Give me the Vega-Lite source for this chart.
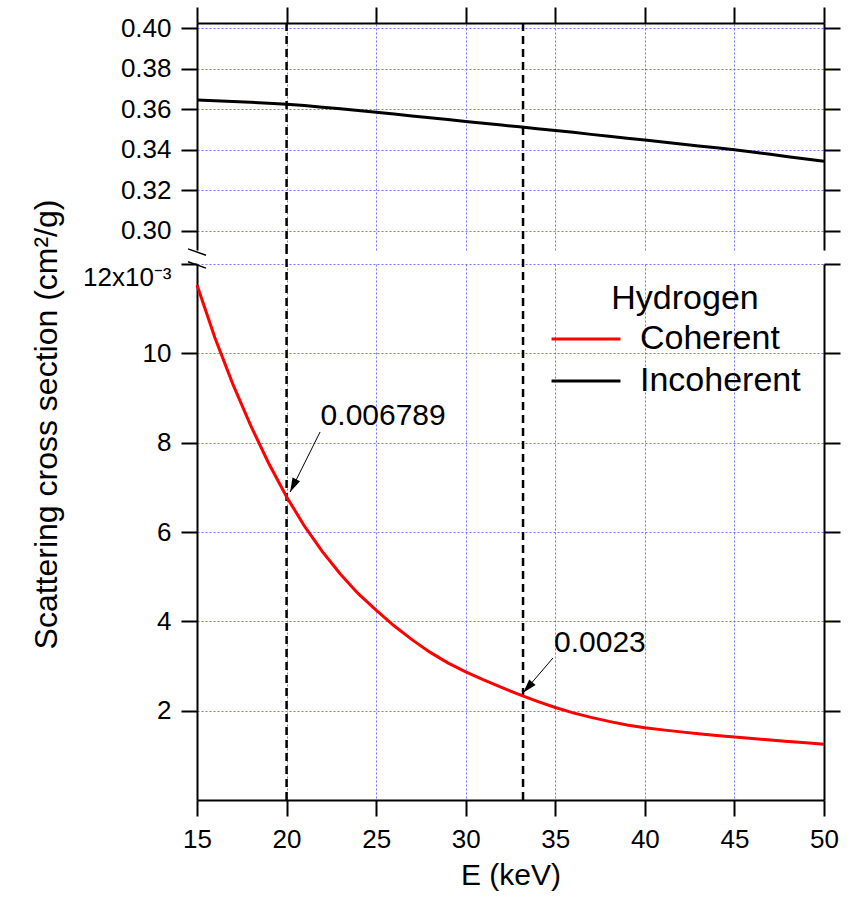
{
  "$schema": "https://vega.github.io/schema/vega-lite/v6.json",
  "background": "white",
  "padding": {"left": 29, "top": 6, "right": 5, "bottom": 5},
  "bounds": "flush",
  "spacing": 14,
  "config": {
    "view": {"stroke": null},
    "axis": {
      "domainColor": "black", "domainWidth": 2,
      "tickColor": "black", "tickWidth": 2, "tickSize": 16,
      "labelFont": "Liberation Sans", "labelFontSize": 26, "labelColor": "black",
      "titleFont": "Liberation Sans", "titleFontSize": 30, "titleFontWeight": "normal", "titleColor": "black",
      "gridColor": "#7373ff", "gridDash": [2, 2], "gridWidth": 1,
      "labelPadding": 10, "labelFlush": false, "labelOverlap": false
    },
    "legend": {
      "orient": "none", "legendX": 372, "legendY": 259,
      "titleFont": "Liberation Sans", "titleFontSize": 34, "titleFontWeight": "normal", "titleColor": "black", "titleAnchor": "middle", "titlePadding": 6, "titleLimit": 0,
      "labelFont": "Liberation Sans", "labelFontSize": 34, "labelColor": "black", "labelOffset": 37, "labelLimit": 0,
      "symbolType": "M-5,0H5", "symbolSize": 190, "symbolStrokeWidth": 3, "rowPadding": 8
    }
  },
  "datasets": {
    "curves": [
      {"E": 15, "value": 0.3645, "series": "Incoherent"},
      {"E": 16, "value": 0.3642, "series": "Incoherent"},
      {"E": 17, "value": 0.3638, "series": "Incoherent"},
      {"E": 18, "value": 0.3634, "series": "Incoherent"},
      {"E": 19, "value": 0.3630, "series": "Incoherent"},
      {"E": 20, "value": 0.3625, "series": "Incoherent"},
      {"E": 21, "value": 0.3618, "series": "Incoherent"},
      {"E": 22, "value": 0.3610, "series": "Incoherent"},
      {"E": 23, "value": 0.3602, "series": "Incoherent"},
      {"E": 24, "value": 0.3594, "series": "Incoherent"},
      {"E": 25, "value": 0.3585, "series": "Incoherent"},
      {"E": 26, "value": 0.3576, "series": "Incoherent"},
      {"E": 27, "value": 0.3567, "series": "Incoherent"},
      {"E": 28, "value": 0.3558, "series": "Incoherent"},
      {"E": 29, "value": 0.3549, "series": "Incoherent"},
      {"E": 30, "value": 0.3540, "series": "Incoherent"},
      {"E": 31, "value": 0.3531, "series": "Incoherent"},
      {"E": 32, "value": 0.3522, "series": "Incoherent"},
      {"E": 33, "value": 0.3513, "series": "Incoherent"},
      {"E": 34, "value": 0.3504, "series": "Incoherent"},
      {"E": 35, "value": 0.3495, "series": "Incoherent"},
      {"E": 36, "value": 0.3486, "series": "Incoherent"},
      {"E": 37, "value": 0.3476, "series": "Incoherent"},
      {"E": 38, "value": 0.3467, "series": "Incoherent"},
      {"E": 39, "value": 0.3457, "series": "Incoherent"},
      {"E": 40, "value": 0.3448, "series": "Incoherent"},
      {"E": 41, "value": 0.3438, "series": "Incoherent"},
      {"E": 42, "value": 0.3429, "series": "Incoherent"},
      {"E": 43, "value": 0.3419, "series": "Incoherent"},
      {"E": 44, "value": 0.3410, "series": "Incoherent"},
      {"E": 45, "value": 0.3400, "series": "Incoherent"},
      {"E": 46, "value": 0.3389, "series": "Incoherent"},
      {"E": 47, "value": 0.3378, "series": "Incoherent"},
      {"E": 48, "value": 0.3366, "series": "Incoherent"},
      {"E": 49, "value": 0.3355, "series": "Incoherent"},
      {"E": 50, "value": 0.3343, "series": "Incoherent"},
      {"E": 15, "value": 0.01153, "series": "Coherent"},
      {"E": 16, "value": 0.01035, "series": "Coherent"},
      {"E": 17, "value": 0.00931, "series": "Coherent"},
      {"E": 18, "value": 0.00838, "series": "Coherent"},
      {"E": 19, "value": 0.00754, "series": "Coherent"},
      {"E": 20, "value": 0.00679, "series": "Coherent"},
      {"E": 21, "value": 0.00613, "series": "Coherent"},
      {"E": 22, "value": 0.00556, "series": "Coherent"},
      {"E": 23, "value": 0.00506, "series": "Coherent"},
      {"E": 24, "value": 0.00462, "series": "Coherent"},
      {"E": 25, "value": 0.00425, "series": "Coherent"},
      {"E": 26, "value": 0.00390, "series": "Coherent"},
      {"E": 27, "value": 0.00359, "series": "Coherent"},
      {"E": 28, "value": 0.00331, "series": "Coherent"},
      {"E": 29, "value": 0.00307, "series": "Coherent"},
      {"E": 30, "value": 0.00287, "series": "Coherent"},
      {"E": 31, "value": 0.00269, "series": "Coherent"},
      {"E": 32, "value": 0.00252, "series": "Coherent"},
      {"E": 33, "value": 0.00236, "series": "Coherent"},
      {"E": 34, "value": 0.00221, "series": "Coherent"},
      {"E": 35, "value": 0.00207, "series": "Coherent"},
      {"E": 36, "value": 0.00195, "series": "Coherent"},
      {"E": 37, "value": 0.00185, "series": "Coherent"},
      {"E": 38, "value": 0.00176, "series": "Coherent"},
      {"E": 39, "value": 0.00168, "series": "Coherent"},
      {"E": 40, "value": 0.00162, "series": "Coherent"},
      {"E": 41, "value": 0.00157, "series": "Coherent"},
      {"E": 42, "value": 0.001525, "series": "Coherent"},
      {"E": 43, "value": 0.001485, "series": "Coherent"},
      {"E": 44, "value": 0.001445, "series": "Coherent"},
      {"E": 45, "value": 0.00141, "series": "Coherent"},
      {"E": 46, "value": 0.001376, "series": "Coherent"},
      {"E": 47, "value": 0.001344, "series": "Coherent"},
      {"E": 48, "value": 0.001312, "series": "Coherent"},
      {"E": 49, "value": 0.001281, "series": "Coherent"},
      {"E": 50, "value": 0.00125, "series": "Coherent"}
    ],
    "vlines": [{"E": 20}, {"E": 33.2}],
    "labels": [
      {"E": 21.9, "v": 0.008395, "text": "0.006789"},
      {"E": 34.93, "v": 0.00332, "text": "0.0023"}
    ],
    "arrows": [
      {"id": "a", "E": 21.87, "v": 0.008239, "E2": 20.2, "v2": 0.006895},
      {"id": "b", "E": 34.87, "v": 0.003179, "E2": 33.21, "v2": 0.002402}
    ]
  },
  "vconcat": [
    {
      "width": 627,
      "height": 227,
      "layer": [
        {
          "data": {"name": "vlines"},
          "mark": {"type": "rule", "color": "black", "strokeWidth": 2.5, "strokeDash": [8, 5]},
          "encoding": {
            "x": {
              "field": "E", "type": "quantitative",
              "scale": {"domain": [15, 50], "nice": false, "zero": false},
              "axis": {"orient": "top", "labels": false, "title": null, "values": [15, 20, 25, 30, 35, 40, 45, 50], "grid": true}
            }
          }
        },
        {
          "data": {"name": "curves"},
          "transform": [{"filter": "datum.series === 'Incoherent'"}],
          "mark": {"type": "line", "strokeWidth": 3},
          "encoding": {
            "x": {"field": "E", "type": "quantitative"},
            "y": {
              "field": "value", "type": "quantitative",
              "scale": {"domain": [0.2906, 0.4025], "nice": false, "zero": false},
              "axis": {"orient": "left", "values": [0.30, 0.32, 0.34, 0.36, 0.38, 0.40], "format": ".2f", "title": null, "grid": true}
            },
            "color": {
              "field": "series", "type": "nominal",
              "scale": {"domain": ["Coherent", "Incoherent"], "range": ["#ff0000", "#000000"]},
              "legend": {"title": "Hydrogen"}
            }
          }
        },
        {
          "data": {"values": [{"E": 15}]},
          "mark": {"type": "point", "shape": "M-1,-0.35L1,0.35", "size": 324, "filled": false, "stroke": "black", "strokeWidth": 1.5, "opacity": 1},
          "encoding": {
            "x": {"field": "E", "type": "quantitative"},
            "y": {
              "datum": 0.2896, "type": "quantitative",
              "axis": {"orient": "right", "labels": false, "title": null, "values": [0.30, 0.32, 0.34, 0.36, 0.38, 0.40], "grid": false}
            }
          }
        }
      ],
      "resolve": {"axis": {"y": "independent"}}
    },
    {
      "width": 627,
      "height": 536,
      "layer": [
        {
          "data": {"name": "vlines"},
          "mark": {"type": "rule", "color": "black", "strokeWidth": 2.5, "strokeDash": [8, 5]},
          "encoding": {
            "x": {
              "field": "E", "type": "quantitative",
              "scale": {"domain": [15, 50], "nice": false, "zero": false},
              "axis": {"orient": "bottom", "title": "E (keV)", "values": [15, 20, 25, 30, 35, 40, 45, 50], "grid": true, "titlePadding": 8}
            },
            "y": {"datum": 0, "type": "quantitative", "axis": null},
            "y2": {"datum": 0.012313}
          }
        },
        {
          "data": {"name": "curves"},
          "transform": [{"filter": "datum.series === 'Coherent'"}],
          "mark": {"type": "line", "strokeWidth": 3},
          "encoding": {
            "x": {"field": "E", "type": "quantitative"},
            "y": {
              "field": "value", "type": "quantitative",
              "scale": {"domain": [0, 0.012], "nice": false, "zero": false},
              "axis": {
                "orient": "left",
                "values": [0.002, 0.004, 0.006, 0.008, 0.010, 0.012],
                "labelExpr": "datum.value > 0.0119 ? '12x10⁻³' : format(datum.value * 1000, 'd')",
                "labelBaseline": {"condition": {"test": "datum.value > 0.0119", "value": "top"}, "value": "middle"},
                "title": "Scattering cross section (cm²/g)",
                "titleFontSize": 32,
                "titleX": -134,
                "titleY": 160,
                "grid": true
              }
            },
            "color": {
              "field": "series", "type": "nominal",
              "scale": {"domain": ["Coherent", "Incoherent"], "range": ["#ff0000", "#000000"]},
              "legend": {"title": "Hydrogen"}
            }
          }
        },
        {
          "data": {"values": [{"E": 15}]},
          "mark": {"type": "point", "shape": "M-1,-0.35L1,0.35", "size": 324, "filled": false, "stroke": "black", "strokeWidth": 1.5, "opacity": 1},
          "encoding": {
            "x": {"field": "E", "type": "quantitative"},
            "y": {
              "datum": 0.011978, "type": "quantitative",
              "axis": {"orient": "right", "labels": false, "title": null, "values": [0.002, 0.004, 0.006, 0.008, 0.010, 0.012], "grid": false}
            }
          }
        },
        {
          "data": {"name": "arrows"},
          "mark": {"type": "rule", "color": "black", "strokeWidth": 1},
          "encoding": {
            "x": {"field": "E", "type": "quantitative"},
            "y": {"field": "v", "type": "quantitative", "axis": null},
            "x2": {"field": "E2"},
            "y2": {"field": "v2"}
          }
        },
        {
          "data": {"name": "arrows"},
          "transform": [{"filter": "datum.id === 'a'"}],
          "mark": {"type": "point", "shape": "M0,0L-0.3,-1L0.3,-1Z", "size": 784, "filled": true, "color": "black", "opacity": 1, "angle": 26},
          "encoding": {
            "x": {"field": "E2", "type": "quantitative"},
            "y": {"field": "v2", "type": "quantitative", "axis": null}
          }
        },
        {
          "data": {"name": "arrows"},
          "transform": [{"filter": "datum.id === 'b'"}],
          "mark": {"type": "point", "shape": "M0,0L-0.3,-1L0.3,-1Z", "size": 784, "filled": true, "color": "black", "opacity": 1, "angle": 41},
          "encoding": {
            "x": {"field": "E2", "type": "quantitative"},
            "y": {"field": "v2", "type": "quantitative", "axis": null}
          }
        },
        {
          "data": {"name": "labels"},
          "mark": {"type": "text", "font": "Liberation Sans", "fontSize": 30, "align": "left", "baseline": "alphabetic", "color": "black"},
          "encoding": {
            "x": {"field": "E", "type": "quantitative"},
            "y": {"field": "v", "type": "quantitative", "axis": null},
            "text": {"field": "text"}
          }
        }
      ],
      "resolve": {"axis": {"y": "independent"}}
    }
  ]
}
